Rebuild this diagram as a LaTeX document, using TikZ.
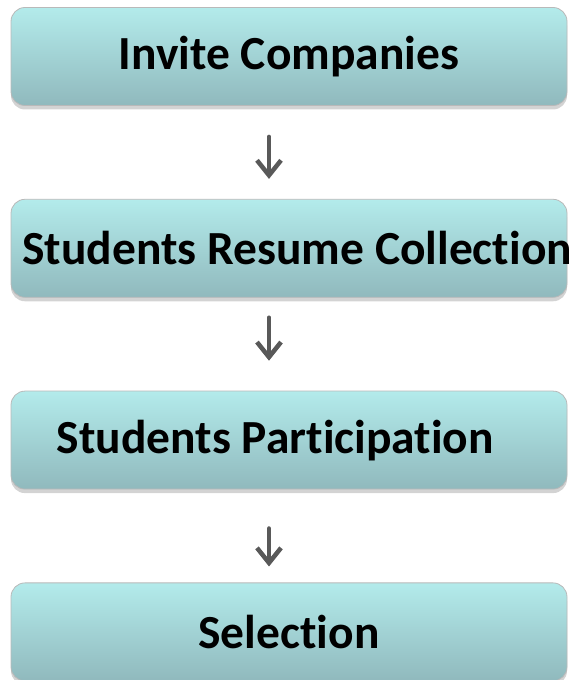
\documentclass[tikz,border=0pt]{standalone}
\usepackage{fontspec}
\setmainfont{Carlito}[Ligatures=NoCommon]
\usepackage{tikz}
\usetikzlibrary{arrows.meta, positioning, shadows}

\definecolor{boxtop}{HTML}{B3EBEB}
\definecolor{boxbot}{HTML}{90B9BD}
\definecolor{arrgray}{HTML}{595959}

\begin{document}
\begin{tikzpicture}[
    x=1pt, y=1pt,
    node distance=93pt,
    stepbox/.style={rectangle, rounded corners=14pt, draw=gray!55, line width=0.8pt,
                    top color=boxtop, bottom color=boxbot,
                    minimum width=556pt, minimum height=98pt, inner sep=0pt,
                    font=\fontsize{47.5}{56}\selectfont\bfseries,
                    drop shadow={shadow xshift=0pt, shadow yshift=-4pt, opacity=0.35}},
    steptext/.style={font=\fontsize{47.5}{56}\selectfont\bfseries, inner sep=0pt, anchor=west},
    arr/.style={-{Straight Barb[length=15pt, width=24pt, line width=4.5pt]},
                line width=4.5pt, draw=arrgray, line cap=round, line join=round}
]
\useasboundingbox (0,0) rectangle (571,680);

\node[stepbox] (b1) at (289,623.5) {Invite Companies};
\node[stepbox, below=of b1] (b2) {};
\node[stepbox, below=of b2] (b3) {};
\node[stepbox, below=of b3] (b4) {Selection};

\node[steptext] (t2) at ([xshift=11.5pt]b2.west) {Students Resume Collection};
\node[steptext] (t3) at ([xshift=46pt]b3.west) {Students Participation};

\draw[arr] ([xshift=-20pt, yshift=-31pt]b1.south) -- ([xshift=-20pt, yshift=20pt]b2.north);
\draw[arr] ([xshift=-20pt, yshift=-20pt]b2.south) -- ([xshift=-20pt, yshift=30pt]b3.north);
\draw[arr] ([xshift=-20pt, yshift=-39pt]b3.south) -- ([xshift=-20pt, yshift=16pt]b4.north);
\end{tikzpicture}
\end{document}
